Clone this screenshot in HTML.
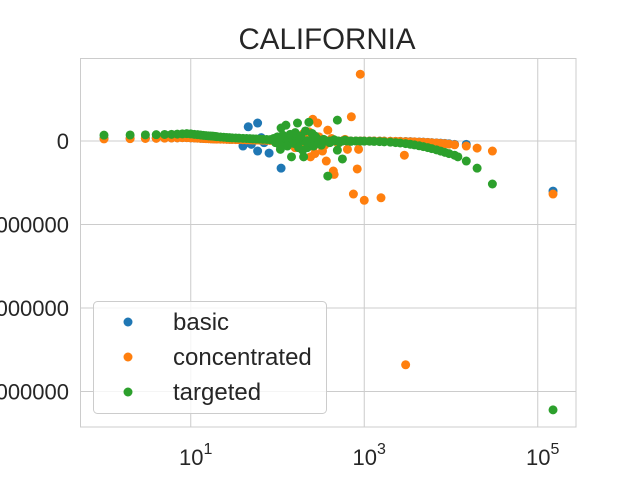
<!DOCTYPE html>
<html><head><meta charset="utf-8"><style>
html,body{margin:0;padding:0;background:#fff;}
svg{display:block;font-family:"Liberation Sans",sans-serif;}
</style></head><body>
<svg id="chart" width="640" height="480" xmlns="http://www.w3.org/2000/svg">
<text x="327" y="49" font-size="29.5" text-anchor="middle" fill="#262626">CALIFORNIA</text>
<rect x="80.5" y="58.5" width="495.5" height="368.5" fill="#fff" stroke="#cccccc" stroke-width="1"/>
<g id="grid"></g>
<g id="ticks"></g>
<g id="points"></g>
<text x="328" y="497" font-size="22" text-anchor="middle" fill="#262626">Population</text>
<g>
<rect x="93.5" y="301.5" width="233" height="112" rx="4" fill="#fff" fill-opacity="0.8" stroke="#cccccc"/>
<circle cx="128" cy="322" r="4.5" fill="#1f77b4"/>
<text x="173" y="330" font-size="24" fill="#262626">basic</text>
<circle cx="128" cy="357" r="4.5" fill="#ff7f0e"/>
<text x="173" y="365" font-size="24" fill="#262626">concentrated</text>
<circle cx="128" cy="392" r="4.5" fill="#2ca02c"/>
<text x="173" y="400" font-size="24" fill="#262626">targeted</text>
</g>
</svg>
<script>
const xTickExps = [1, 3, 5];
const yTicks = [0, -1000000, -2000000, -3000000];
const yTickLabels = ["0", "\u22121000000", "\u22122000000", "\u22123000000"];

const bandPop = [1,2,3,4,5,6,7,8,9,10,11,12,13,14,15,16,17,18,19,20,
  22,24,26,28,30, 33,36,40,44,48, 52,57,62,68,75, 82,90,100,110,120,
  135,150,165,180,200, 220,250,280,320,360, 400,450,500,560,630,
  700,800,900,1000,1150, 1300,1500,1700,2000,2300, 2600,3000,3400,3800,4300,
  4800,5400,6000,6800,7600, 8500,9500,11000];
const basicBand = [30000,32000,34000,35000,36000,37000,38000,40000,40000,38000,
  36000,34000,32000,30000,29000,28000,27000,26000,25000,24000,
  23000,22000,21000,20000,19000, 18000,17000,16000,15000,14000,
  13000,12000,11000,10000,9000, 8000,7000,6000,5000,5000,
  4000,4000,3000,3000,2000, 2000,1000,1000,0,0,
  0,0,0,0,0, 0,0,0,0,0,
  0,-1000,-2000,-3000,-4000, -5000,-6000,-8000,-10000,-12000,
  -14000,-16000,-19000,-22000,-25000, -29000,-33000,-40000];
const concBand = [25000,28000,30000,32000,34000,36000,38000,40000,40000,38000,
  36000,34000,32000,30000,28000,27000,26000,25000,24000,23000,
  22000,21000,20000,19000,18000, 17000,16000,15000,14000,13000,
  12000,11000,10000,9000,8000, 7000,6000,5000,5000,4000,
  4000,3000,3000,2000,2000, 1000,1000,0,0,0,
  0,0,0,0,0, 0,0,0,0,0,
  0,-1000,-2000,-3000,-4000, -5000,-7000,-9000,-11000,-13000,
  -15000,-18000,-21000,-24000,-28000, -32000,-37000,-45000];
const targBand = [70000,72000,74000,76000,78000,80000,83000,85000,88000,85000,
  80000,76000,72000,68000,65000,62000,60000,58000,55000,52000,
  48000,45000,42000,40000,38000, 36000,34000,32000,30000,28000,
  26000,24000,22000,20000,18000, 16000,14000,12000,10000,9000,
  8000,7000,6000,5000,4000, 3000,2000,1000,0,0,
  0,0,0,0,0, 0,0,-1000,-2000,-3000,
  -5000,-7000,-10000,-14000,-19000, -24000,-31000,-39000,-47000,-57000,
  -67000,-79000,-91000,-106000,-121000, -136000,-151000,-170000];

const basicPop = [46,59,59,80,110,40,42,50,65,70,15000,150000];
const basicVal = [170000,215000,-120000,-145000,-325000,-60000,-30000,-40000,40000,-20000,-40000,-600000];

const concPop = [900,710,750,1000,1560,830,2900,30000,20000,15000,150000,365,450,380,255,290,3000,240,330,640,860,440,210,180,
  100,130,150,170,200,220,260,300,350,420,500,600,120,160,190,230,270];
const concVal = [800000,290000,-635000,-710000,-680000,-335000,-170000,-120000,-85000,-60000,-635000,-240000,-400000,130000,260000,215000,-2680000,-190000,-120000,-100000,-100000,-360000,70000,-40000,
  30000,-20000,40000,-60000,90000,60000,-70000,50000,-50000,30000,-30000,20000,50000,-80000,-30000,110000,-150000];

const targPop = [30000,20000,15000,12000,560,380,490,230,170,125,110,145,200,490,108,150000,270,320,220,180,
  90,95,100,105,115,130,140,155,160,175,185,195,210,240,250,260,280,300,340,400,450,520,600,700];
const targVal = [-515000,-325000,-240000,-190000,-215000,-420000,250000,225000,215000,190000,155000,-190000,-190000,-110000,-100000,-3220000,60000,-50000,-80000,40000,
  30000,-20000,50000,-40000,70000,-60000,80000,-30000,100000,-80000,60000,-110000,120000,-20000,90000,-60000,40000,-30000,20000,-20000,15000,-15000,10000,-5000];

const X0 = 104, DEC = 86.75, Y0 = 141, YPER = 83.5e-6;
function xScale(p){ return X0 + Math.log10(p) * DEC; }
function yScale(v){ return Y0 - v * YPER; }

const NS = "http://www.w3.org/2000/svg";
const grid = document.getElementById('grid');
const ticks = document.getElementById('ticks');
const pts = document.getElementById('points');

xTickExps.forEach(e => {
  const x = xScale(Math.pow(10, e));
  const l = document.createElementNS(NS, 'line');
  
  
  l.setAttribute('x1', x); l.setAttribute('x2', x); l.setAttribute('y1', 58.5); l.setAttribute('y2', 427);
  l.setAttribute('stroke', '#cccccc');
  grid.appendChild(l);
  const t = document.createElementNS(NS, 'text');
  
  
  t.setAttribute('x', x + 5); t.setAttribute('y', 465); t.setAttribute('font-size', '22');
  t.setAttribute('text-anchor', 'middle'); t.setAttribute('fill', '#262626');
  t.innerHTML = '10<tspan font-size="16" dy="-11">' + e + '</tspan>';
  ticks.appendChild(t);
});
yTicks.forEach((v, i) => {
  const y = yScale(v);
  const l = document.createElementNS(NS, 'line');
  
  
  l.setAttribute('x1', 80.5); l.setAttribute('x2', 576); l.setAttribute('y1', y); l.setAttribute('y2', y);
  l.setAttribute('stroke', '#cccccc');
  grid.appendChild(l);
  const t = document.createElementNS(NS, 'text');
  
  
  t.setAttribute('x', 69); t.setAttribute('y', y + 8); t.setAttribute('font-size', '22');
  t.setAttribute('text-anchor', 'end'); t.setAttribute('fill', '#262626');
  t.textContent = yTickLabels[i];
  ticks.appendChild(t);
});

function drawSeries(pop, val, color, name){
  const g = document.createElementNS(NS, 'g');
  
  
  pop.forEach((p, i) => {
    const c = document.createElementNS(NS, 'circle');
    
    
    c.setAttribute('cx', xScale(p)); c.setAttribute('cy', yScale(val[i]));
    c.setAttribute('r', 4.5); c.setAttribute('fill', color);
    g.appendChild(c);
  });
  pts.appendChild(g);
}
drawSeries(bandPop, basicBand, '#1f77b4', 'basic-band');
drawSeries(basicPop, basicVal, '#1f77b4', 'basic');
drawSeries(bandPop, concBand, '#ff7f0e', 'concentrated-band');
drawSeries(concPop, concVal, '#ff7f0e', 'concentrated');
drawSeries(bandPop, targBand, '#2ca02c', 'targeted-band');
drawSeries(targPop, targVal, '#2ca02c', 'targeted');
</script>
</body></html>
